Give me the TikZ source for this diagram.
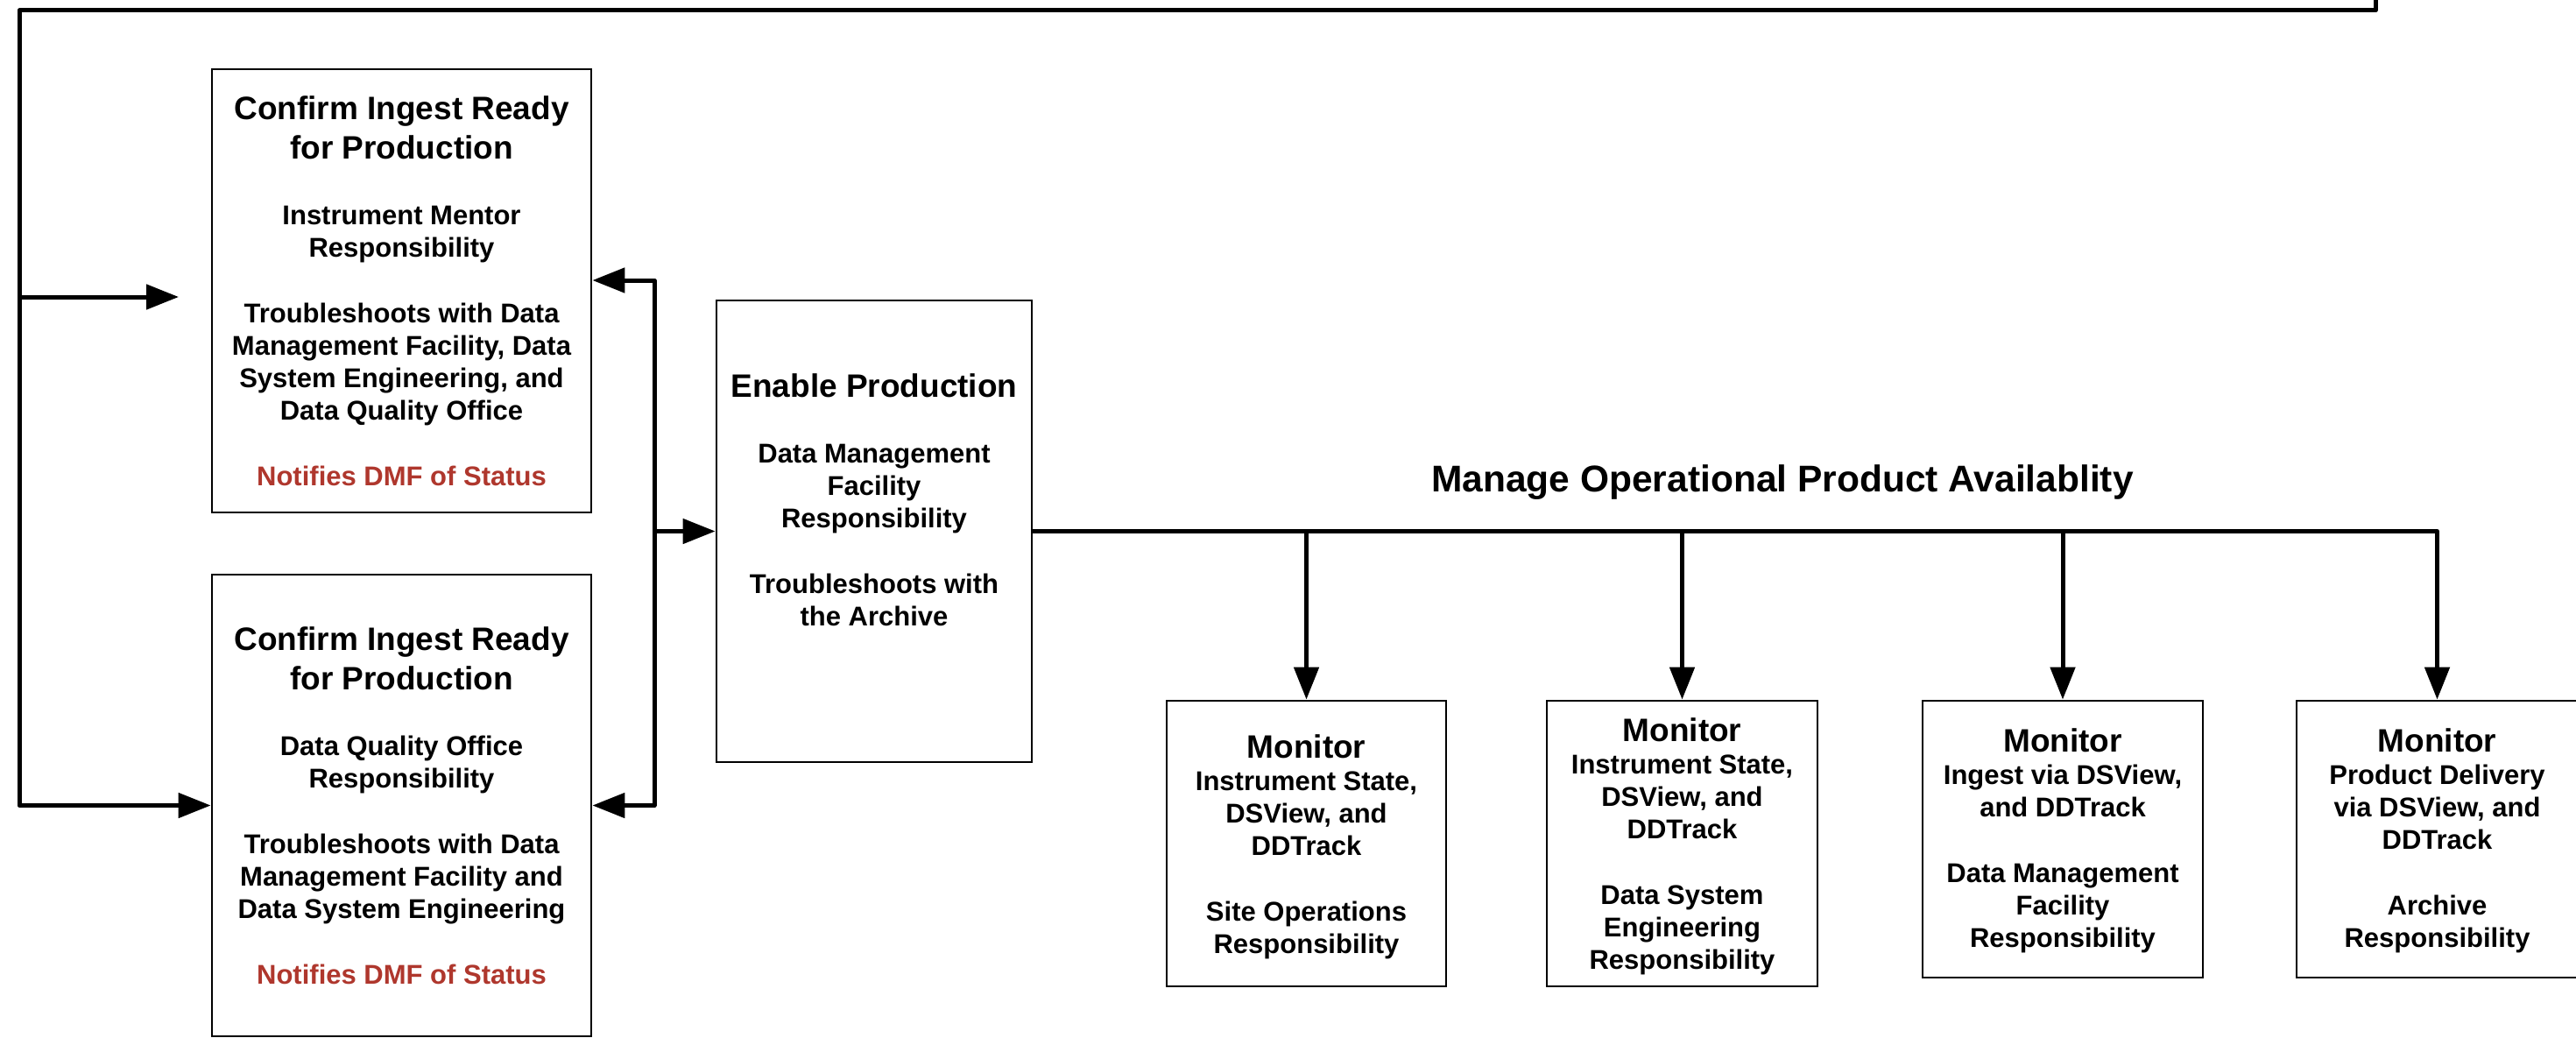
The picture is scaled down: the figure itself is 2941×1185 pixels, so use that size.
\documentclass[tikz,border=0pt]{standalone}
\usepackage{fontspec}
\setmainfont{Liberation Sans}
\usetikzlibrary{arrows.meta,calc}
\definecolor{notered}{RGB}{175,55,45}
% word spacing is fixed at the natural space of the current font size
\newcommand\fixspaces{\spaceskip=\fontdimen2\font\xspaceskip=\fontdimen2\font\relax}
\newcommand\boxtitle{\fontsize{37}{45}\selectfont\fixspaces}
\newcommand\boxbody{\fontsize{31}{37}\selectfont\fixspaces}
\newcommand\paragap{\par\vspace{38pt}}

\begin{document}
\begin{tikzpicture}[x=1pt,y=-1pt,font=\bfseries,
  stage/.style={draw, line width=2.8pt, inner sep=0pt, fill=white},
  txt/.style={inner sep=0pt, anchor=base, align=center, text width=#1},
  wire/.style={line width=5pt, line join=round},
  arr/.style={wire, -{Triangle[length=37pt,width=28pt]}}]

\useasboundingbox (0,0) rectangle (2941,1185);

% ---- stage boxes ----
\node[stage, minimum width=433pt, minimum height=506pt] (mentor) at (458.5,332) {};
\node[stage, minimum width=433pt, minimum height=527pt] (dqo) at (458.5,919.5) {};
\node[stage, minimum width=360pt, minimum height=527pt] (enable) at (998,606.5) {};
\node[stage, minimum width=319pt, minimum height=326pt] (mon1) at (1491.5,963) {};
\node[stage, minimum width=309pt, minimum height=326pt] (mon2) at (1920.5,963) {};
\node[stage, minimum width=320pt, minimum height=316pt] (mon3) at (2355,958) {};
\node[stage, minimum width=321pt, minimum height=316pt] (mon4) at (2782.5,958) {};

% ---- box texts ----
\node[txt=425pt] (mentortext) at (458.5,137) {%
  \boxtitle Confirm Ingest Ready\\ for Production\paragap
  \boxbody Instrument Mentor\\ Responsibility\paragap
  Troubleshoots with Data\\ Management Facility, Data\\ System Engineering, and\\ Data Quality Office\paragap
  \leavevmode\textcolor{notered}{Notifies DMF of Status}\par};

\node[txt=425pt] (dqotext) at (458.5,742) {%
  \boxtitle Confirm Ingest Ready\\ for Production\paragap
  \boxbody Data Quality Office\\ Responsibility\paragap
  Troubleshoots with Data\\ Management Facility and\\ Data System Engineering\paragap
  \leavevmode\textcolor{notered}{Notifies DMF of Status}\par};

\node[txt=352pt] (enabletext) at (998,453) {%
  \boxtitle Enable Production\paragap
  \boxbody Data Management\\ Facility\\ Responsibility\paragap
  Troubleshoots with\\ the Archive\par};

\node[txt=311pt] (mon1text) at (1491.5,865) {%
  \boxtitle Monitor\par
  \boxbody Instrument State,\\ DSView, and\\ DDTrack\paragap
  Site Operations\\ Responsibility\par};

\node[txt=301pt] (mon2text) at (1920.5,846) {%
  \boxtitle Monitor\par
  \boxbody Instrument State,\\ DSView, and\\ DDTrack\paragap
  Data System\\ Engineering\\ Responsibility\par};

\node[txt=312pt] (mon3text) at (2355,858.6) {%
  \boxtitle Monitor\par
  \boxbody Ingest via DSView,\\ and DDTrack\paragap
  Data Management\\ Facility\\ Responsibility\par};

\node[txt=312pt] (mon4text) at (2782.5,858.6) {%
  \boxtitle Monitor\par
  \boxbody Product Delivery\\ via DSView, and\\ DDTrack\paragap
  Archive\\ Responsibility\par};

\node[anchor=base, inner sep=0pt, font=\bfseries\fontsize{42.5}{50}\selectfont] (manage) at (2035,561)
  {Manage Operational Product Availablity};

% ---- connector end points ----
\coordinate (loopin) at (2712,0);
\coordinate (looptop) at (2712,12);
\coordinate (loopcorner) at (22,12);
\coordinate (loopbend) at (22,919.5);
\coordinate (mentorin) at (204,339);
\coordinate (split) at (747,606.5);

% ---- feedback loop into both confirm stages ----
\draw[arr] (loopin) -- (looptop) -- (loopcorner) -- (loopbend) -- (dqo.west);
\draw[arr] (loopcorner |- mentorin) -- (mentorin);

% ---- confirm stages <-> enable production ----
\draw[arr] (split) |- ([yshift=12pt]mentor.east);
\draw[arr] (split) |- (dqo.east);
\draw[arr] (split) -- (enable.west);

% ---- operational monitoring branches ----
\draw[arr] (enable.east) -| (mon4.north);
\draw[arr] (mon1.north |- enable.east) -- (mon1.north);
\draw[arr] (mon2.north |- enable.east) -- (mon2.north);
\draw[arr] (mon3.north |- enable.east) -- (mon3.north);

\end{tikzpicture}
\end{document}
